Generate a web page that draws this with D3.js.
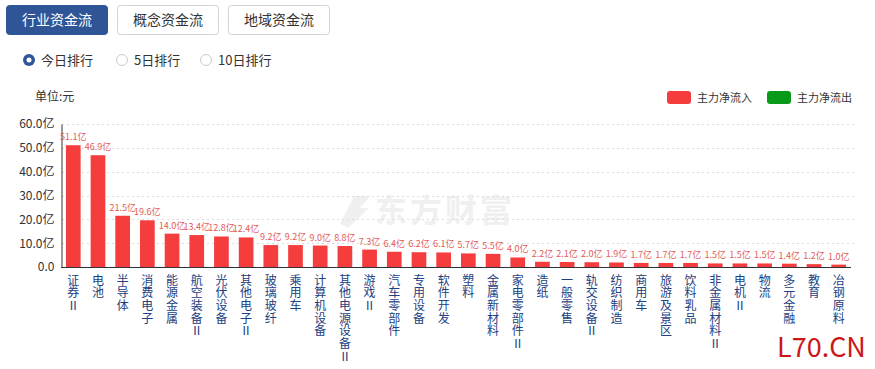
<!DOCTYPE html>
<html><head><meta charset="utf-8">
<script src="https://cdn.jsdelivr.net/npm/d3@7"></script>
<style>
body{margin:0;background:#fff;font-family:"Noto Sans CJK SC","Microsoft YaHei",sans-serif;}
svg text{font-family:"Noto Sans CJK SC",sans-serif;}
.vlab{writing-mode:vertical-rl;text-orientation:upright;}
</style></head>
<body>
<svg id="c" width="875" height="369"></svg>
<script>
const categories = ["证券Ⅱ","电池","半导体","消费电子","能源金属","航空装备Ⅱ","光伏设备","其他电子Ⅱ","玻璃玻纤","乘用车","计算机设备","其他电源设备Ⅱ","游戏Ⅱ","汽车零部件","专用设备","软件开发","塑料","金属新材料","家电零部件Ⅱ","造纸","一般零售","轨交设备Ⅱ","纺织制造","商用车","旅游及景区","饮料乳品","非金属材料Ⅱ","电机Ⅱ","物流","多元金融","教育","冶钢原料"];
const values = [51.1,46.9,21.5,19.6,14.0,13.4,12.8,12.4,9.2,9.2,9.0,8.8,7.3,6.4,6.2,6.1,5.7,5.5,4.0,2.2,2.1,2.0,1.9,1.7,1.7,1.7,1.5,1.5,1.5,1.4,1.2,1.0];
const yTicks = [0,10,20,30,40,50,60];
const tabs = ["行业资金流","概念资金流","地域资金流"];
const radios = ["今日排行","5日排行","10日排行"];
const legendItems = ["主力净流入","主力净流出"];

const svg = d3.select("#c");

// tabs
const tabX = [6,117,228];
tabs.forEach((t,i)=>{
  const g = svg.append("g");
  g.append("rect").attr("x",tabX[i]+0.5).attr("y",5.5).attr("width",101).attr("height",29).attr("rx",3)
    .attr("fill", i===0?"#2f5597":"#fff").attr("stroke", i===0?"#2f5597":"#d4d4d4");
  g.append("text").attr("x",tabX[i]+51).attr("y",25).attr("text-anchor","middle")
    .attr("font-size",14).attr("fill", i===0?"#fff":"#333").text(t);
});

// radios
const radX = [29,122,206];
radios.forEach((t,i)=>{
  if(i===0){
    svg.append("circle").attr("cx",radX[i]).attr("cy",60).attr("r",6).attr("fill","#2f5597");
    svg.append("circle").attr("cx",radX[i]).attr("cy",60).attr("r",2.5).attr("fill","#fff");
  } else {
    svg.append("circle").attr("cx",radX[i]).attr("cy",60).attr("r",5.5).attr("fill","#fff").attr("stroke","#ccc");
  }
  svg.append("text").attr("x",radX[i]+12).attr("y",65).attr("font-size",13).attr("fill","#333").text(t);
});

// unit
svg.append("text").attr("x",35).attr("y",101).attr("font-size",12).attr("fill","#333").text("单位:元");

// legend
const legColors = ["#f53d3d","#0a9a1a"];
const legX = [667,767];
legendItems.forEach((t,i)=>{
  svg.append("rect").attr("x",legX[i]).attr("y",91).attr("width",24).attr("height",13).attr("rx",3).attr("fill",legColors[i]);
  svg.append("text").attr("x",legX[i]+30).attr("y",102).attr("font-size",11).attr("fill","#333").text(t);
});

// watermark
const wm = svg.append("g");
wm.append("path").attr("d","M340,224 L354,196 L370,196 L360,208 L369,208 L348,228 Z").attr("fill","#f0f0f0");
wm.append("text").attr("x",375).attr("y",222).attr("font-size",32).attr("font-weight","bold")
  .attr("fill","#f0f0f0").attr("letter-spacing",3).text("东方财富");

// scales
const x = d3.scaleBand().domain(categories).range([61,851]).paddingInner(0.405).paddingOuter(0.2);
const y = d3.scaleLinear().domain([0,60]).range([267,124]);

// grid
svg.append("g").selectAll("line").data(yTicks.filter(d=>d>0)).join("line")
  .attr("x1",62).attr("x2",855).attr("y1",d=>Math.round(y(d))+0.5).attr("y2",d=>Math.round(y(d))+0.5)
  .attr("stroke","#dcdcdc").attr("stroke-dasharray","2,3");

// y axis
const yAxis = d3.axisLeft(y).tickValues(yTicks).tickSize(0).tickPadding(7)
  .tickFormat(d=> d===0 ? "0.0" : d.toFixed(1)+"亿");
const yg = svg.append("g").attr("transform","translate(61.5,0)").call(yAxis);
yg.select(".domain").attr("stroke","#333");
yg.selectAll("text").attr("font-size",12).attr("fill","#333").attr("font-family","Noto Sans CJK SC");

// bars
svg.append("g").selectAll("rect").data(values).join("rect")
  .attr("x",(d,i)=>x(categories[i])).attr("width",x.bandwidth())
  .attr("y",d=>y(d)).attr("height",d=>y(0)-y(d)).attr("fill","#f53d3d");

// value labels
svg.append("g").selectAll("text").data(values).join("text")
  .attr("x",(d,i)=>x(categories[i])+x.bandwidth()/2).attr("y",d=>y(d)-5)
  .attr("text-anchor","middle").attr("font-size",9).attr("fill","#e35a5a")
  .text(d=>d.toFixed(1)+"亿");

// x axis line
svg.append("line").attr("x1",61).attr("x2",851).attr("y1",267.5).attr("y2",267.5).attr("stroke","#333");

// x labels (vertical, stacked characters)
svg.append("g").selectAll("text").data(categories).join("text")
  .attr("class","vlab")
  .attr("x",d=>x(d)+x.bandwidth()/2).attr("y",274)
  .attr("font-size",12).attr("letter-spacing",0.7).attr("fill","#22407f")
  .text(d=>d);

// corner mark
svg.append("text").attr("x",777).attr("y",357).attr("font-size",27)
  .attr("font-family","Liberation Sans, Arial").attr("fill","#cc1616").text("L70.CN");
</script>
</body></html>
